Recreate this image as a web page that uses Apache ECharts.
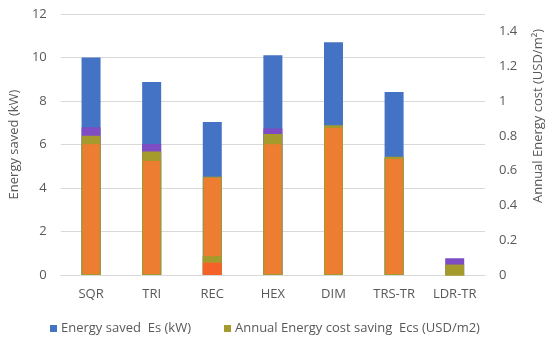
<!DOCTYPE html>
<html><head><meta charset="utf-8">
<script src="https://cdn.jsdelivr.net/npm/echarts@6/dist/echarts.min.js"></script>
<style>html,body{margin:0;padding:0;background:#fff}#c{width:550px;height:343px}</style>
</head><body><div id="c"></div>
<script>
const categories = ['SQR','TRI','REC','HEX','DIM','TRS-TR','LDR-TR'];
// Energy saved (kW), left axis
const energySaved = [10.0, 8.87, 7.03, 10.1, 10.7, 8.41, 0];
// Annual energy cost saving (USD/m2), right axis
const costSaving = [0.80, 0.71, 0.11, 0.81, 0.86, 0.68, 0.06];
// Unlabelled overlay series (left axis units)
const purpleSeries = [6.79, 6.02, 0, 6.74, 0, 0, 0.77];
const orangeSeries = [6.06, 5.29, 4.52, 6.06, 6.80, 5.38, 0];
const redSeries = [0, 0, 0.57, 0, 0, 0, 0];
const oliveBand = [0, 0, 0.30, 0, 0, 0, 0];
const leftTicks = {min: 0, max: 12, interval: 2};
const rightTicks = {min: 0, max: 1.5, interval: 0.2};

const FONT = "'Open Sans', sans-serif";
const TXT = '#595959';
const chart = echarts.init(document.getElementById('c'), null, {renderer: 'canvas'});
const bw = 19;
chart.setOption({
  animation: false,
  textStyle: {fontFamily: FONT},
  grid: {left: 58, right: 65, top: 14, bottom: 68},
  legend: {
    data: ['Energy saved  Es (kW)', 'Annual Energy cost saving  Ecs (USD/m2)'],
    bottom: 3, left: 45, itemWidth: 7, itemHeight: 7, itemGap: 33, icon: 'rect',
    textStyle: {color: TXT, fontSize: 13, fontFamily: FONT, padding: [0,0,0,-1]}
  },
  xAxis: {
    type: 'category', data: categories,
    axisLine: {lineStyle: {color: '#D9D9D9'}}, axisTick: {show: false},
    axisLabel: {color: TXT, fontSize: 13, margin: 13, fontFamily: FONT}
  },
  yAxis: [{
    type: 'value', min: leftTicks.min, max: leftTicks.max, interval: leftTicks.interval,
    name: 'Energy saved (kW)', nameLocation: 'middle', nameRotate: 90, nameGap: 38,
    nameTextStyle: {color: TXT, fontSize: 13, fontFamily: FONT},
    axisLabel: {color: TXT, fontSize: 13, margin: 14, fontFamily: FONT},
    splitLine: {lineStyle: {color: '#D9D9D9'}}, axisLine: {show: false}, axisTick: {show: false}
  }, {
    type: 'value', min: rightTicks.min, max: rightTicks.max, interval: rightTicks.interval,
    axisLabel: {color: TXT, fontSize: 13, margin: 14, fontFamily: FONT, showMaxLabel: false,
      formatter: v => String(Math.round(v * 10) / 10)},
    splitLine: {show: false}, axisLine: {show: false}, axisTick: {show: false}
  }],
  graphic: [{
    type: 'text', x: 538, y: 116, rotation: Math.PI / 2,
    style: {text: 'Annual Energy cost (USD/m²)', fill: TXT, font: '13px ' + FONT,
      textAlign: 'center', textVerticalAlign: 'middle'}
  }],
  series: [
    {name: 'Energy saved  Es (kW)', type: 'bar', data: energySaved, barWidth: bw, barGap: '-100%',
      itemStyle: {color: '#4472C4'}},
    {name: 'p', type: 'bar', data: purpleSeries, barWidth: bw, barGap: '-100%',
      itemStyle: {color: '#7E4DC4'}},
    {name: 'Annual Energy cost saving  Ecs (USD/m2)', type: 'bar', yAxisIndex: 1, data: costSaving,
      barWidth: bw, barGap: '-100%', itemStyle: {color: '#A59A2C'}},
    {name: 'o', type: 'bar', data: orangeSeries, barWidth: bw, barGap: '-100%',
      itemStyle: {color: '#ED7D31', borderColor: '#A59A2C', borderWidth: 1}},
    {name: 'r', type: 'bar', stack: 'x', data: redSeries, barWidth: bw, barGap: '-100%',
      itemStyle: {color: '#F4622A'}},
    {name: 'ob', type: 'bar', stack: 'x', data: oliveBand, barWidth: bw, barGap: '-100%',
      itemStyle: {color: '#A59A2C'}}
  ]
});
</script></body></html>
